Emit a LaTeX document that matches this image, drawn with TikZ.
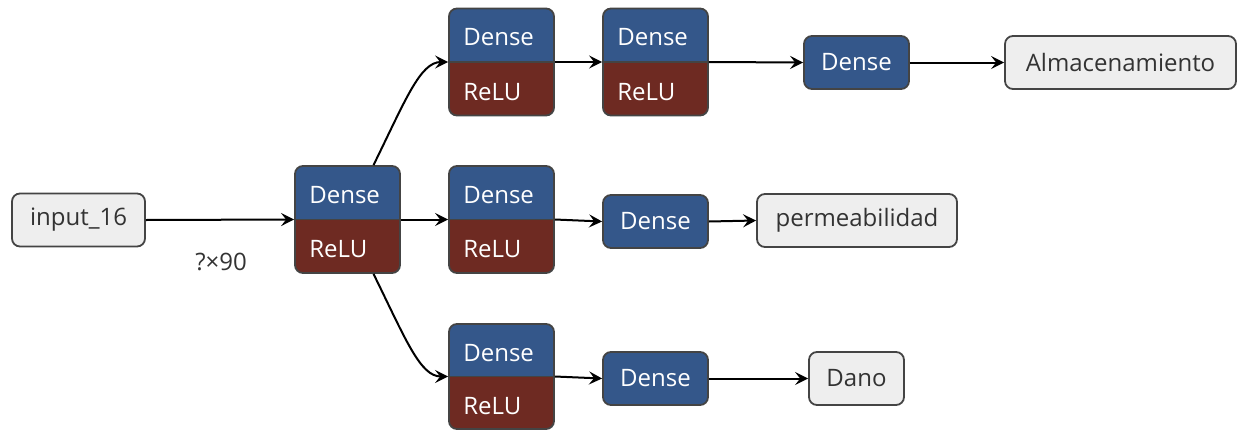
\documentclass[tikz,border=0pt]{standalone}
\usepackage{fontspec}
\setmainfont{Open Sans}
\usetikzlibrary{arrows.meta,calc}
\definecolor{dblue}{HTML}{34578A}
\definecolor{rrelu}{HTML}{6E2A22}
\definecolor{lgray}{HTML}{EEEEEE}
\definecolor{bord}{HTML}{444444}
\definecolor{txt}{HTML}{333333}
\begin{document}
\begin{tikzpicture}[x=1pt,y=-1pt,
 every node/.style={font=\fontsize{24}{28}\selectfont},
 io/.style={draw=bord, line width=1.8pt, fill=lgray, rounded corners=8pt, text=txt, minimum height=53pt, inner sep=0pt},
 dbox/.style={draw=bord, line width=1.8pt, fill=dblue, rounded corners=8pt, text=white, minimum width=105pt, minimum height=53pt, inner sep=0pt},
 drbox/.style={draw=bord, line width=1.8pt, rounded corners=8pt, minimum width=105pt, minimum height=#1, inner sep=0pt,
   path picture={\fill[dblue, sharp corners] (path picture bounding box.north west) rectangle (path picture bounding box.east);
                 \fill[rrelu, sharp corners] (path picture bounding box.west) rectangle (path picture bounding box.south east);}},
 drbox/.default=107pt,
 lbl/.style={text=white, anchor=base west, inner sep=0pt},
 arr/.style={-{Stealth[length=13pt,width=13pt,inset=5pt]}, line width=2pt, black},
 split/.style={draw=bord, line width=1.8pt},
]
\useasboundingbox (0,0) rectangle (1238,431);

% nodes
\node[io, minimum width=133pt] (inp) at (78.5,220) {input\_16};
\node[drbox] (b1) at (347.5,219.5) {};
\node[drbox] (t1) at (501.5,62) {};
\node[drbox] (t2) at (655.5,62) {};
\node[dbox] (td) at (856.5,62.5) {Dense};
\node[io, minimum width=231pt, minimum height=53pt] (alm) at (1120.5,62.5) {Almacenamiento};
\node[drbox] (m1) at (501.5,219.5) {};
\node[dbox] (md) at (655.5,221.5) {Dense};
\node[io, minimum width=200pt] (perm) at (857,220.5) {permeabilidad};
\node[drbox=105pt] (b3) at (501.5,376.5) {};
\node[dbox] (bd) at (655.5,378.5) {Dense};
\node[io, minimum width=95pt] (dano) at (856.5,378.5) {Dano};
\node[text=txt, inner sep=0pt] (shape) at (221,262) {?×90};

% split lines and labels
\foreach \b in {b1,t1,t2,m1,b3}{
  \draw[split] (\b.west) -- (\b.east);
  \node[lbl] (\b-d) at ($(\b.north west)+(15,38)$) {Dense};
  \node[lbl] (\b-r) at ($(\b.west)+(15,38)$) {ReLU};
}

% connectors
\draw[arr] (inp.east) -- (b1.west);
\draw[arr] (b1.east) -- (m1.west);
\draw[arr] (t1.east) -- (t2.west);
\draw[arr] (t2.east) -- (td.west);
\draw[arr] (td.east) -- (alm.west);
\draw[arr] (m1.east) -- (md.west);
\draw[arr] (md.east) -- (perm.west);
\draw[arr] (b3.east) -- (bd.west);
\draw[arr] (bd.east) -- (dano.west);
\coordinate (b1top) at ($(b1.north)+(26,0)$);
\coordinate (b1bot) at ($(b1.south)+(26,0)$);
\draw[arr] (b1top) .. controls ($(b1top)+(32,-65)$) and ($(t1.west)+(-28,0)$) .. (t1.west);
\draw[arr] (b1bot) .. controls ($(b1bot)+(32,65)$) and ($(b3.west)+(-28,0)$) .. (b3.west);
\end{tikzpicture}
\end{document}
